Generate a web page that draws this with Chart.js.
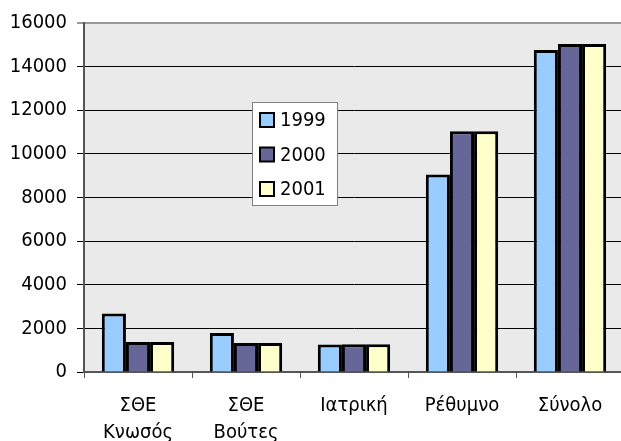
<!DOCTYPE html>
<html>
<head>
<meta charset="utf-8">
<script src="https://cdn.jsdelivr.net/npm/chart.js@4"></script>
<style>
  html, body { margin: 0; padding: 0; background: #fff; overflow: hidden; }
  #wrap { width: 628px; height: 441px; }
</style>
</head>
<body>
<div id="wrap"><canvas id="chart" width="628" height="441"></canvas></div>
<script>
// data
const categories = [['ΣΘΕ', 'Κνωσός'], ['ΣΘΕ', 'Βούτες'], 'Ιατρική', 'Ρέθυμνο', 'Σύνολο'];
const years = ['1999', '2000', '2001'];
const values1999 = [2680, 1790, 1260, 9060, 14760];
const values2000 = [1375, 1330, 1270, 11040, 15040];
const values2001 = [1375, 1330, 1270, 11040, 15040];
const yTicks = [0, 2000, 4000, 6000, 8000, 10000, 12000, 14000, 16000];

const colors = ['#99CCFF', '#666699', '#FFFFCC'];
const FONT = '"DejaVu Sans Condensed", "DejaVu Sans", sans-serif';

// grey plot background
const plotBg = {
    id: 'plotBg',
    beforeDraw(chart) {
        const a = chart.chartArea, ctx = chart.ctx;
        ctx.save();
        ctx.fillStyle = '#EAEAEA';
        ctx.fillRect(a.left, a.top, a.right - a.left, a.bottom - a.top);
        ctx.restore();
    }
};

// boxed legend sitting inside the plot
const boxLegend = {
    id: 'boxLegend',
    afterDraw(chart) {
        const ctx = chart.ctx;
        const x = 252, y = 102, w = 85, h = 103;
        ctx.save();
        ctx.fillStyle = '#fff';
        ctx.fillRect(x, y, w, h);
        ctx.strokeStyle = '#808080';
        ctx.lineWidth = 1;
        ctx.strokeRect(x + 0.5, y + 0.5, w, h);
        ctx.font = '20px ' + FONT;
        ctx.textBaseline = 'middle';
        chart.data.datasets.forEach((ds, i) => {
            const cy = y + 18 + i * 34.5;
            ctx.fillStyle = ds.backgroundColor;
            ctx.fillRect(x + 8, cy - 7, 14, 14);
            ctx.strokeStyle = '#000';
            ctx.lineWidth = 2;
            ctx.strokeRect(x + 8, cy - 7, 14, 14);
            ctx.fillStyle = '#000';
            ctx.fillText(ds.label, x + 28, cy + 1);
        });
        ctx.restore();
    }
};

const ctx = document.getElementById('chart').getContext('2d');
new Chart(ctx, {
    type: 'bar',
    data: {
        labels: categories,
        datasets: [
            { label: years[0], data: values1999, backgroundColor: colors[0] },
            { label: years[1], data: values2000, backgroundColor: colors[1] },
            { label: years[2], data: values2001, backgroundColor: colors[2] }
        ]
    },
    options: {
        responsive: false,
        animation: false,
        layout: { padding: { top: 23, right: 4, left: 0, bottom: 0 } },
        datasets: {
            bar: {
                borderColor: '#000',
                borderWidth: 3,
                categoryPercentage: 0.67,
                barPercentage: 1.0
            }
        },
        plugins: {
            legend: { display: false },
            tooltip: { enabled: false }
        },
        scales: {
            x: {
                grid: {
                    drawOnChartArea: false,
                    drawTicks: true,
                    tickLength: 6,
                    color: '#555',
                    lineWidth: 1
                },
                border: { color: '#555', width: 2 },
                ticks: {
                    color: '#000',
                    font: { family: FONT, size: 20, lineHeight: 1.35 },
                    padding: 14,
                    maxRotation: 0,
                    autoSkip: false
                },
                afterFit(scale) { scale.height = 69; }
            },
            y: {
                min: 0,
                max: 16000,
                afterBuildTicks(scale) { scale.ticks = yTicks.map(v => ({ value: v })); },
                grid: {
                    color: c => (c.tick && c.tick.value === 16000) ? '#999' : '#000',
                    lineWidth: c => (c.tick && c.tick.value === 16000) ? 2 : 1,
                    tickLength: 7
                },
                border: { color: '#555', width: 2 },
                ticks: {
                    color: '#000',
                    font: { family: FONT, size: 20 },
                    padding: 10,
                    callback: v => String(v)
                },
                afterFit(scale) { scale.width = 84; }
            }
        }
    },
    plugins: [plotBg, boxLegend]
});
</script>
</body>
</html>
